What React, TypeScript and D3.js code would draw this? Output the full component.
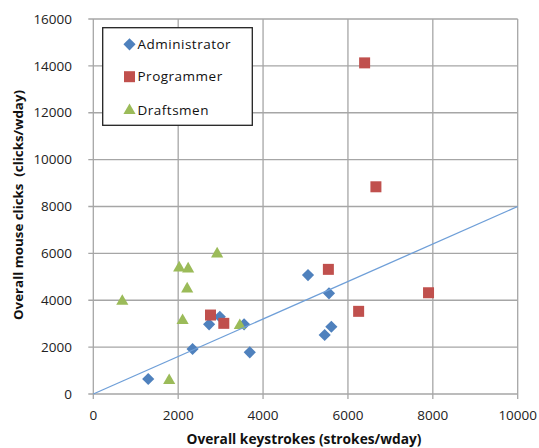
import React from "react";
import * as d3 from "d3";

// Keystrokes vs mouse clicks per workday, by job role
const adminX = [1294, 2339, 2729, 2981, 3553, 3687, 5059, 5553, 5452, 5609];
const adminY = [640, 1919, 2972, 3296, 2972, 1778, 5075, 4294, 2516, 2870];

const progX = [2762, 3075, 5539, 6252, 7899, 6659, 6393];
const progY = [3369, 3015, 5318, 3527, 4320, 8841, 14128];

const draftX = [683, 2024, 2235, 2918, 2212, 2104, 3452, 1788];
const draftY = [3979, 5403, 5360, 6000, 4507, 3156, 2943, 597];

const xTicks = [0, 2000, 4000, 6000, 8000, 10000];
const yTicks = [0, 2000, 4000, 6000, 8000, 10000, 12000, 14000, 16000];

// trend line y = 0.8 x
const trendX = [0, 10000];
const trendSlope = 0.8;

const seriesNames = ["Administrator", "Programmer", "Draftsmen"];
const colors = ["#4f81bd", "#c0504d", "#9bbb59"];

const W = 539;
const H = 448;
const plot = { left: 93.3, right: 517.7, top: 19, bottom: 394 };

const x = d3.scaleLinear().domain([0, 10000]).range([plot.left, plot.right]);
const y = d3.scaleLinear().domain([0, 16000]).range([plot.bottom, plot.top]);

const diamond = d3.symbol().type(d3.symbolSquare).size(74)();
const square = d3.symbol().type(d3.symbolSquare).size(121)();
const triangle = d3.symbol().type(d3.symbolTriangle).size(64)();

const gridColor = "#a6a6a6";
const font = "'Open Sans', 'Liberation Sans', sans-serif";

function Marker({ kind, cx, cy }: { kind: number; cx: number; cy: number }) {
  if (kind === 0)
    return <path d={diamond!} transform={`translate(${cx},${cy}) rotate(45)`} fill={colors[0]} />;
  if (kind === 1)
    return <path d={square!} transform={`translate(${cx},${cy})`} fill={colors[1]} />;
  return <path d={triangle!} transform={`translate(${cx},${cy + 0.5})`} fill={colors[2]} />;
}

export default function App() {
  const series = [
    { xs: adminX, ys: adminY },
    { xs: progX, ys: progY },
    { xs: draftX, ys: draftY },
  ];
  const trend = d3
    .line<number>()
    .x((d) => x(d))
    .y((d) => y(d * trendSlope))(trendX);

  return (
    <svg
      width={W}
      height={H}
      style={{ position: "absolute", left: 0, top: 0, background: "#fff" }}
      fontFamily={font}
    >
      {/* grid */}
      {xTicks.map((t) => (
        <line key={"gx" + t} x1={x(t)} x2={x(t)} y1={plot.top} y2={plot.bottom + 5} stroke={gridColor} strokeWidth={1.3} />
      ))}
      {yTicks.map((t) => (
        <line key={"gy" + t} x1={plot.left - 5} x2={plot.right} y1={y(t)} y2={y(t)} stroke={gridColor} strokeWidth={1.3} />
      ))}

      {/* tick labels */}
      {yTicks.map((t) => (
        <text key={"ty" + t} x={72} y={y(t)} dy="0.35em" textAnchor="end" fontSize={13.5} fill="#222">
          {t}
        </text>
      ))}
      {xTicks.map((t) => (
        <text key={"tx" + t} x={x(t)} y={415} dy="0.35em" textAnchor="middle" fontSize={13.5} fill="#222">
          {t}
        </text>
      ))}

      {/* axis titles */}
      <text
        x={304}
        y={444}
        textAnchor="middle"
        fontSize={13.5}
        fontWeight="bold"
        fill="#111"
        textLength={235}
        lengthAdjust="spacingAndGlyphs"
      >
        Overall keystrokes (strokes/wday)
      </text>
      <text
        transform={`translate(18,205) rotate(-90)`}
        dy="0.35em"
        textAnchor="middle"
        fontSize={13}
        fontWeight="bold"
        fill="#111"
        textLength={230}
        lengthAdjust="spacingAndGlyphs"
        style={{ whiteSpace: "pre" }}
      >
        {"Overall mouse clicks  (clicks/wday)"}
      </text>

      {/* points */}
      {series.map((s, k) =>
        s.xs.map((v, i) => <Marker key={k + "-" + i} kind={k} cx={x(v)} cy={y(s.ys[i])} />)
      )}

      {/* trend line */}
      <path d={trend!} fill="none" stroke="#6f9fd8" strokeWidth={1.3} />

      {/* legend */}
      <g>
        <rect x={102.7} y={27.7} width={149.6} height={97.6} fill="#fff" stroke="#222" strokeWidth={1.3} />
        {seriesNames.map((name, k) => {
          const ly = [44.3, 76.7, 110][k];
          return (
            <g key={name}>
              <Marker kind={k} cx={129.5} cy={ly} />
              <text x={137.5} y={ly} dy="0.35em" fontSize={13.5} letterSpacing={0.5} fill="#111">
                {name}
              </text>
            </g>
          );
        })}
      </g>
    </svg>
  );
}
